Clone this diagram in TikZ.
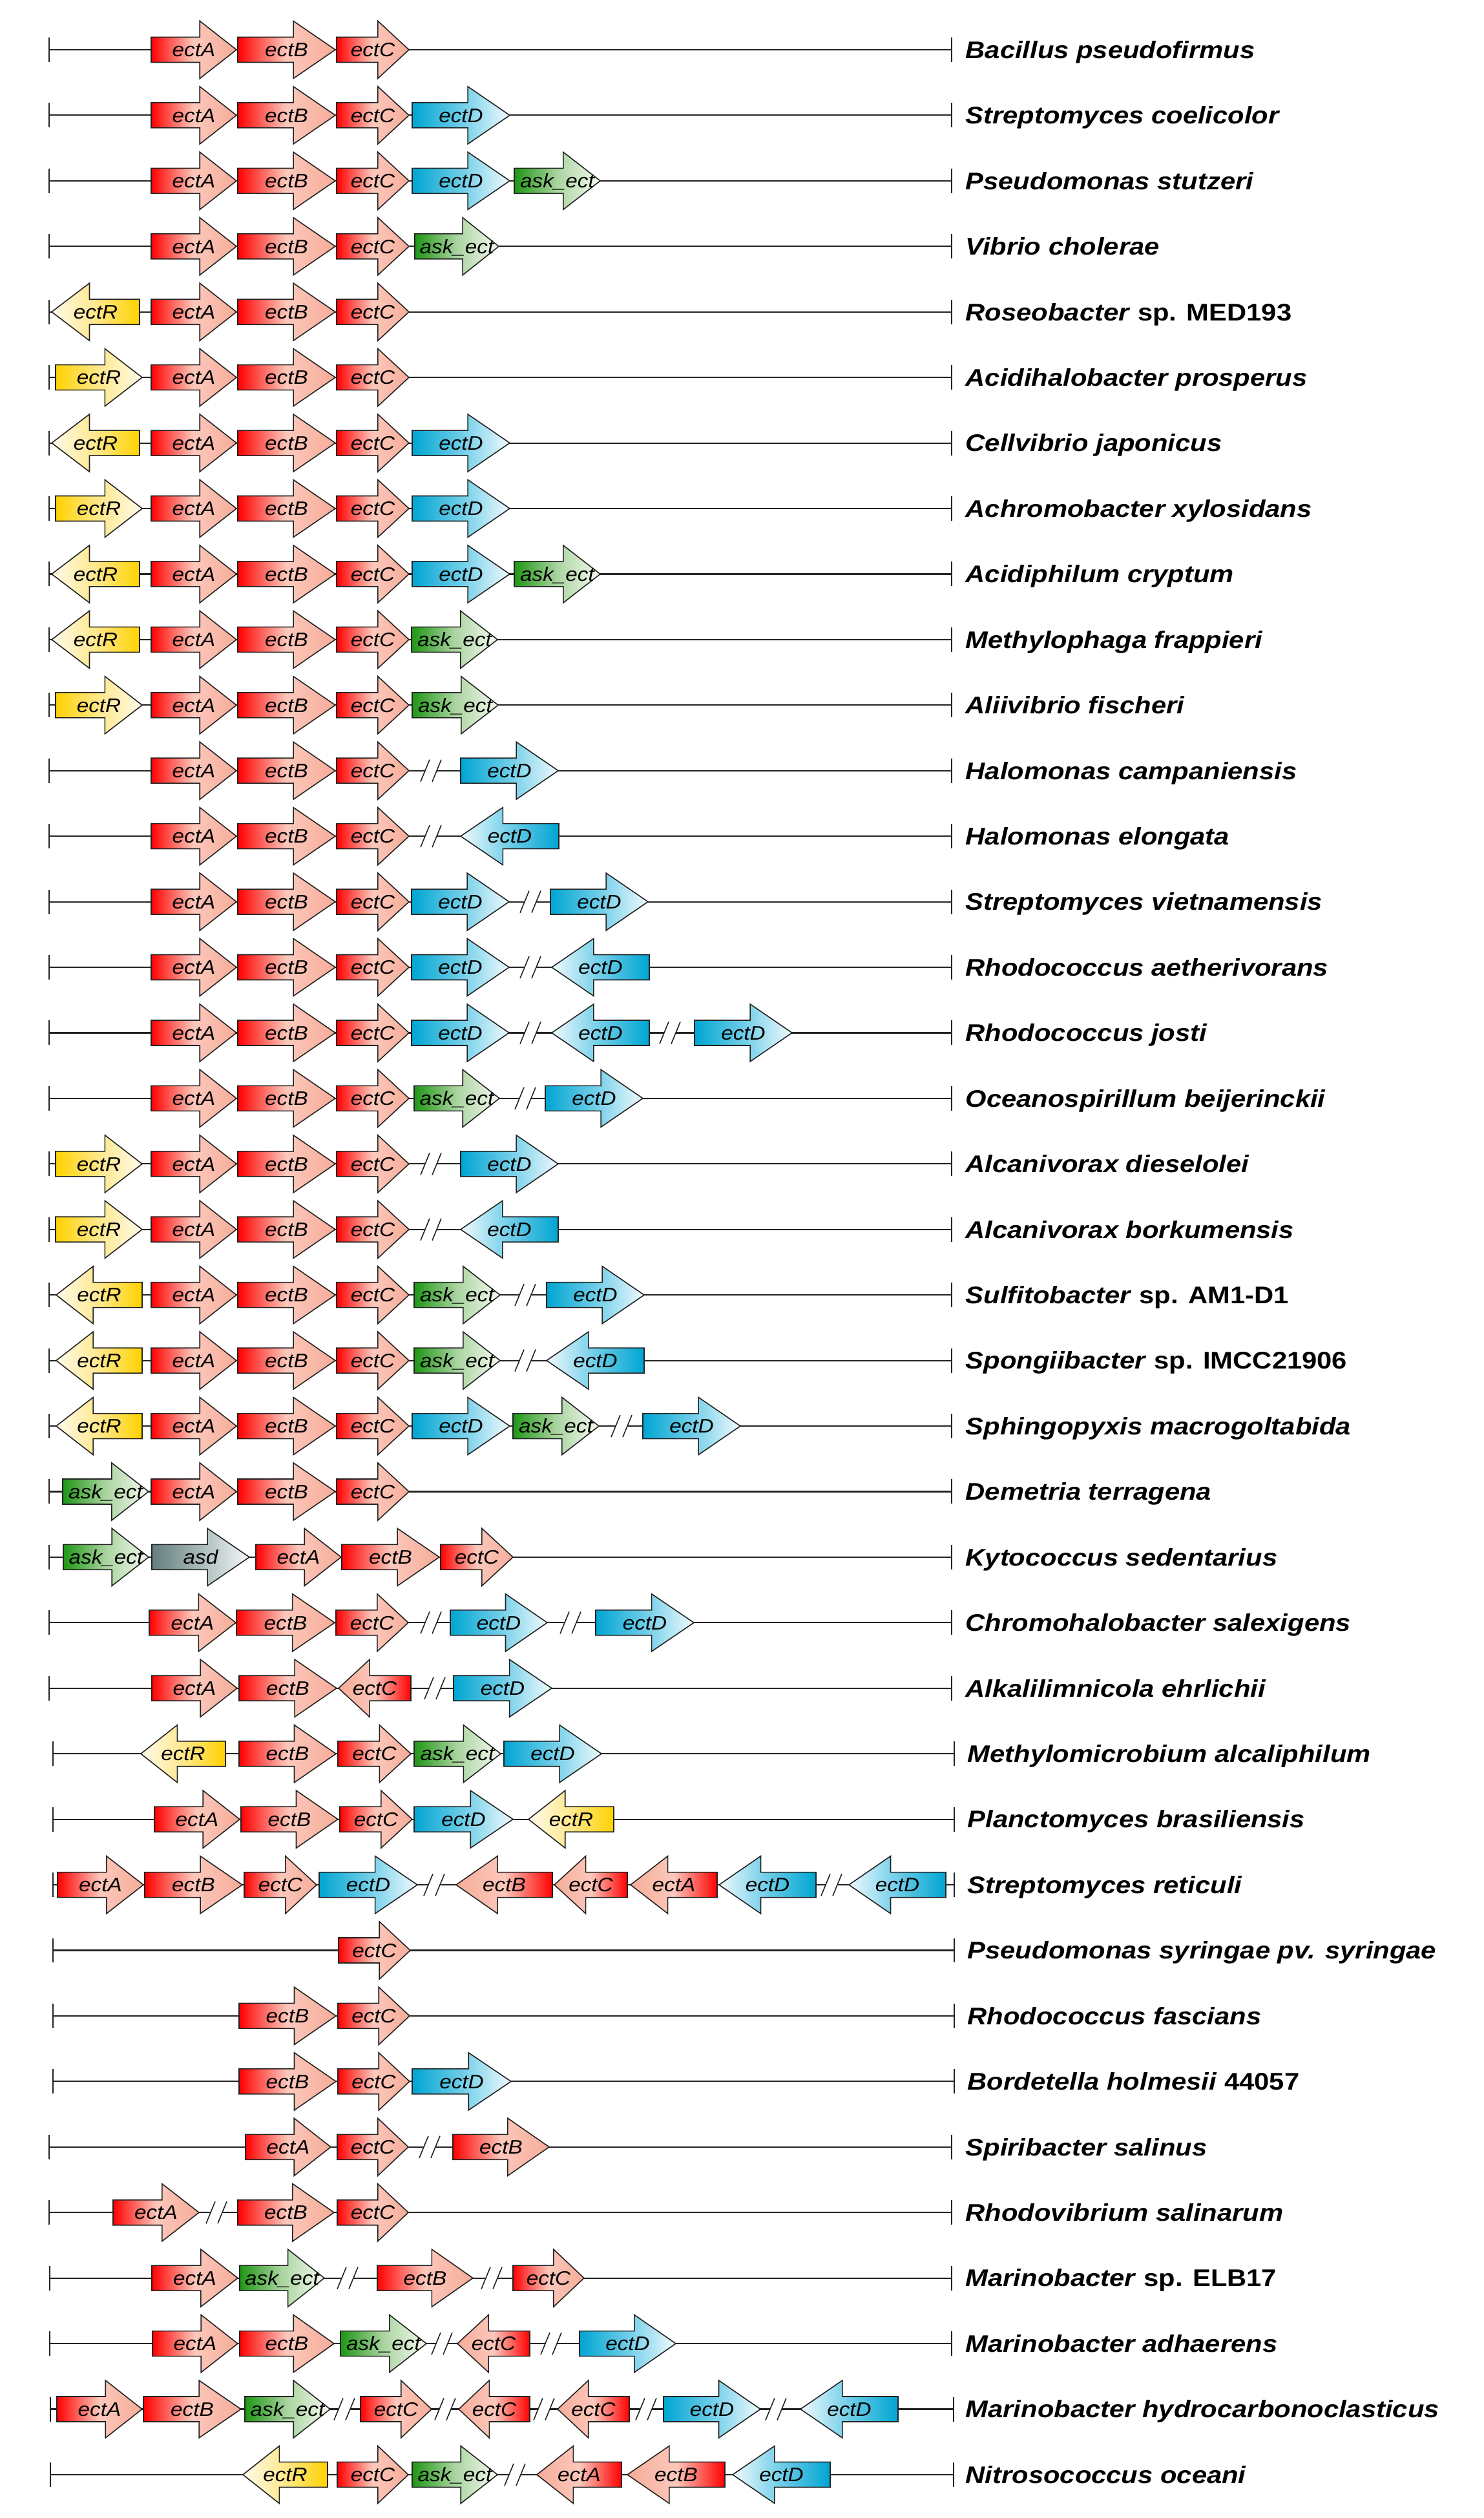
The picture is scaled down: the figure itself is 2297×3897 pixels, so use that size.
\documentclass[tikz,border=0pt]{standalone}
\usepackage{fontspec}
\setmainfont{Liberation Sans}
\newfontfamily\spfont[FakeStretch=1.12]{Liberation Sans}
\newfontfamily\genefont[FakeStretch=1.1]{Liberation Sans}
\usetikzlibrary{arrows.meta}

\definecolor{outline}{RGB}{35,35,35}
\definecolor{ectbase}{RGB}{255,0,0}
\definecolor{ectmid}{RGB}{252,200,188}
\definecolor{ectlight}{RGB}{246,172,152}
\definecolor{dbase}{RGB}{0,165,210}
\definecolor{dmid}{RGB}{110,205,232}
\definecolor{dlight}{RGB}{240,250,253}
\definecolor{askbase}{RGB}{30,150,20}
\definecolor{askmid}{RGB}{170,212,160}
\definecolor{asklight}{RGB}{245,250,240}
\definecolor{rbase}{RGB}{255,210,0}
\definecolor{rmid}{RGB}{255,232,140}
\definecolor{rlight}{RGB}{255,250,235}
\definecolor{asdbase}{RGB}{100,125,125}
\definecolor{asdmid}{RGB}{170,186,186}
\definecolor{asdlight}{RGB}{245,248,248}

\tikzset{
  backbone/.style={draw=outline,line width=0.6pt,{Bar[width=10.8pt,line width=0.45pt]}-{Bar[width=10.8pt,line width=0.45pt]}},
  genebox/.style={draw=outline,line width=0.45pt},
  genelabel/.style={font=\genefont\itshape\fontsize{8.6}{10}\selectfont,inner sep=0pt,text height=6.1pt,text depth=0pt},
  brkline/.style={draw=outline,line width=0.45pt},
  species/.style={font=\spfont\bfseries\itshape\fontsize{10.6}{12}\selectfont,inner sep=0pt,anchor=base west}
}

% tail x, tip x, row, colour kind, label
\newcommand{\ectgene}[5]{%
  \pgfmathsetmacro\gy{77+(#3-1)*101.43}%
  \pgfmathsetmacro\gs{#2-0.43*(#2-#1)}%
  \pgfmathsetmacro\gm{(#1+#2)/2}%
  \ifdim #1pt<#2pt
    \def\gfrom{#4base}\def\gto{#4light}%
  \else
    \def\gfrom{#4light}\def\gto{#4base}%
  \fi
  \draw[genebox,left color=\gfrom,right color=\gto,middle color=#4mid]
    (#1,\gy-19.5) -- (\gs,\gy-19.5) -- (\gs,\gy-44.5) -- (#2,\gy)
    -- (\gs,\gy+44.5) -- (\gs,\gy+19.5) -- (#1,\gy+19.5) -- cycle;
  \node[genelabel] (g#1r#3) at (\gm,\gy) {#5};
}
% x centre, row
\newcommand{\ectbreak}[2]{%
  \pgfmathsetmacro\gy{77+(#2-1)*101.43}%
  \fill[white] (#1-16,\gy+17) -- (#1+2,\gy+17) -- (#1+16,\gy-17) -- (#1-2,\gy-17) -- cycle;
  \draw[brkline] (#1-16,\gy+17) -- (#1-2,\gy-17) (#1+2,\gy+17) -- (#1+16,\gy-17);
}

\begin{document}
\begin{tikzpicture}[x=0.01cm,y=-0.01cm]
\useasboundingbox (0,0) rectangle (2297,3897);

% lines and names
\foreach \i/\lx/\rx/\tx/\nm in {
  1/75/1474/1494/Bacillus pseudofirmus,
  2/75/1474/1494/Streptomyces coelicolor,
  3/75/1474/1494/Pseudomonas stutzeri,
  4/75/1474/1494/Vibrio cholerae,
  5/75/1474/1494/Roseobacter \textup{sp. MED193},
  6/75/1474/1494/Acidihalobacter prosperus,
  7/75/1474/1494/Cellvibrio japonicus,
  8/75/1474/1494/Achromobacter xylosidans,
  9/75/1474/1494/Acidiphilum cryptum,
  10/75/1474/1494/Methylophaga frappieri,
  11/75/1474/1494/Aliivibrio fischeri,
  12/75/1474/1494/Halomonas campaniensis,
  13/75/1474/1494/Halomonas elongata,
  14/75/1474/1494/Streptomyces vietnamensis,
  15/75/1474/1494/Rhodococcus aetherivorans,
  16/75/1474/1494/Rhodococcus josti,
  17/75/1474/1494/Oceanospirillum beijerinckii,
  18/75/1474/1494/Alcanivorax dieselolei,
  19/75/1474/1494/Alcanivorax borkumensis,
  20/75/1474/1494/Sulfitobacter \textup{sp. AM1-D1},
  21/75/1474/1494/Spongiibacter \textup{sp. IMCC21906},
  22/75/1474/1494/Sphingopyxis macrogoltabida,
  23/75/1474/1494/Demetria terragena,
  24/75/1474/1494/Kytococcus sedentarius,
  25/75/1474/1494/Chromohalobacter salexigens,
  26/75/1474/1494/Alkalilimnicola ehrlichii,
  27/81/1478/1497/Methylomicrobium alcaliphilum,
  28/81/1478/1497/Planctomyces brasiliensis,
  29/81/1478/1497/Streptomyces reticuli,
  30/81/1478/1497/Pseudomonas syringae pv. syringae,
  31/81/1478/1497/Rhodococcus fascians,
  32/81/1478/1497/Bordetella holmesii \textup{44057},
  33/75/1474/1494/Spiribacter salinus,
  34/75/1474/1494/Rhodovibrium salinarum,
  35/76/1474/1494/Marinobacter \textup{sp. ELB17},
  36/76/1474/1494/Marinobacter adhaerens,
  37/77/1477/1494/Marinobacter hydrocarbonoclasticus,
  38/77/1477/1494/Nitrosococcus oceani}{
  \pgfmathsetmacro\gy{77+(\i-1)*101.43}
  \coordinate (l\i) at (\lx,\gy);
  \coordinate (r\i) at (\rx,\gy);
  \draw[backbone] (l\i) -- (r\i);
  \node[species] (sp\i) at (\tx,\gy+13.3) {\nm};
}

% ectABC cluster, rows 1-23
\foreach \r in {1,...,23}{
  \ectgene{234}{366}{\r}{ect}{ectA}
  \ectgene{368}{519}{\r}{ect}{ectB}
  \ectgene{521}{633}{\r}{ect}{ectC}
}

\ectgene{638}{789}{2}{d}{ectD}
\ectgene{638}{789}{3}{d}{ectD}
\ectgene{796}{929}{3}{ask}{ask\_ect}
\ectgene{642}{772}{4}{ask}{ask\_ect}
\ectgene{216}{80}{5}{r}{ectR}
\ectgene{86}{220}{6}{r}{ectR}
\ectgene{216}{80}{7}{r}{ectR}
\ectgene{638}{789}{7}{d}{ectD}
\ectgene{86}{220}{8}{r}{ectR}
\ectgene{638}{789}{8}{d}{ectD}
\ectgene{216}{80}{9}{r}{ectR}
\ectgene{638}{789}{9}{d}{ectD}
\ectgene{796}{929}{9}{ask}{ask\_ect}
\ectgene{216}{80}{10}{r}{ectR}
\ectgene{637}{770}{10}{ask}{ask\_ect}
\ectgene{86}{220}{11}{r}{ectR}
\ectgene{638}{771}{11}{ask}{ask\_ect}

\ectbreak{667}{12}
\ectgene{713}{864}{12}{d}{ectD}
\ectbreak{667}{13}
\ectgene{865}{713}{13}{d}{ectD}
\ectgene{637}{788}{14}{d}{ectD}
\ectbreak{821}{14}
\ectgene{852}{1003}{14}{d}{ectD}
\ectgene{637}{788}{15}{d}{ectD}
\ectbreak{821}{15}
\ectgene{1005}{854}{15}{d}{ectD}
\ectgene{637}{788}{16}{d}{ectD}
\ectbreak{821}{16}
\ectgene{1005}{854}{16}{d}{ectD}
\ectbreak{1037}{16}
\ectgene{1075}{1226}{16}{d}{ectD}
\ectgene{641}{773}{17}{ask}{ask\_ect}
\ectbreak{813}{17}
\ectgene{844}{995}{17}{d}{ectD}
\ectgene{86}{220}{18}{r}{ectR}
\ectbreak{667}{18}
\ectgene{713}{864}{18}{d}{ectD}
\ectgene{86}{220}{19}{r}{ectR}
\ectbreak{667}{19}
\ectgene{864}{713}{19}{d}{ectD}
\ectgene{220}{87}{20}{r}{ectR}
\ectgene{641}{774}{20}{ask}{ask\_ect}
\ectbreak{813}{20}
\ectgene{846}{997}{20}{d}{ectD}
\ectgene{220}{87}{21}{r}{ectR}
\ectgene{641}{774}{21}{ask}{ask\_ect}
\ectbreak{813}{21}
\ectgene{997}{846}{21}{d}{ectD}
\ectgene{220}{87}{22}{r}{ectR}
\ectgene{638}{789}{22}{d}{ectD}
\ectgene{794}{927}{22}{ask}{ask\_ect}
\ectbreak{962}{22}
\ectgene{995}{1146}{22}{d}{ectD}
\ectgene{97}{230}{23}{ask}{ask\_ect}

% rows 24-38
\ectgene{98}{230}{24}{ask}{ask\_ect}
\ectgene{235}{386}{24}{asd}{asd}
\ectgene{396}{528}{24}{ect}{ectA}
\ectgene{529}{680}{24}{ect}{ectB}
\ectgene{682}{794}{24}{ect}{ectC}

\ectgene{231}{365}{25}{ect}{ectA}
\ectgene{366}{518}{25}{ect}{ectB}
\ectgene{520}{632}{25}{ect}{ectC}
\ectbreak{667}{25}
\ectgene{697}{847}{25}{d}{ectD}
\ectbreak{883}{25}
\ectgene{922}{1074}{25}{d}{ectD}

\ectgene{235}{367}{26}{ect}{ectA}
\ectgene{370}{521}{26}{ect}{ectB}
\ectgene{636}{524}{26}{ect}{ectC}
\ectbreak{673}{26}
\ectgene{702}{854}{26}{d}{ectD}

\ectgene{349}{218}{27}{r}{ectR}
\ectgene{370}{520}{27}{ect}{ectB}
\ectgene{523}{636}{27}{ect}{ectC}
\ectgene{641}{775}{27}{ask}{ask\_ect}
\ectgene{780}{931}{27}{d}{ectD}

\ectgene{239}{371}{28}{ect}{ectA}
\ectgene{373}{523}{28}{ect}{ectB}
\ectgene{526}{638}{28}{ect}{ectC}
\ectgene{641}{794}{28}{d}{ectD}
\ectgene{950}{818}{28}{r}{ectR}

\ectgene{89}{222}{29}{ect}{ectA}
\ectgene{224}{375}{29}{ect}{ectB}
\ectgene{378}{490}{29}{ect}{ectC}
\ectgene{494}{646}{29}{d}{ectD}
\ectbreak{672}{29}
\ectgene{855}{706}{29}{ect}{ectB}
\ectgene{971}{858}{29}{ect}{ectC}
\ectgene{1110}{976}{29}{ect}{ectA}
\ectgene{1263}{1113}{29}{d}{ectD}
\ectbreak{1287}{29}
\ectgene{1464}{1314}{29}{d}{ectD}

\ectgene{524}{635}{30}{ect}{ectC}

\ectgene{370}{520}{31}{ect}{ectB}
\ectgene{523}{634}{31}{ect}{ectC}

\ectgene{370}{520}{32}{ect}{ectB}
\ectgene{523}{634}{32}{ect}{ectC}
\ectgene{638}{791}{32}{d}{ectD}

\ectgene{380}{512}{33}{ect}{ectA}
\ectgene{522}{632}{33}{ect}{ectC}
\ectbreak{665}{33}
\ectgene{701}{850}{33}{ect}{ectB}

\ectgene{175}{308}{34}{ect}{ectA}
\ectbreak{335}{34}
\ectgene{368}{517}{34}{ect}{ectB}
\ectgene{522}{632}{34}{ect}{ectC}

\ectgene{235}{368}{35}{ect}{ectA}
\ectgene{371}{502}{35}{ask}{ask\_ect}
\ectbreak{538}{35}
\ectgene{584}{732}{35}{ect}{ectB}
\ectbreak{761}{35}
\ectgene{794}{904}{35}{ect}{ectC}

\ectgene{236}{368}{36}{ect}{ectA}
\ectgene{371}{517}{36}{ect}{ectB}
\ectgene{527}{660}{36}{ask}{ask\_ect}
\ectbreak{684}{36}
\ectgene{820}{708}{36}{ect}{ectC}
\ectbreak{853}{36}
\ectgene{897}{1046}{36}{d}{ectD}

\ectgene{88}{220}{37}{ect}{ectA}
\ectgene{222}{373}{37}{ect}{ectB}
\ectgene{379}{511}{37}{ask}{ask\_ect}
\ectbreak{533}{37}
\ectgene{558}{668}{37}{ect}{ectC}
\ectbreak{689}{37}
\ectgene{820}{710}{37}{ect}{ectC}
\ectbreak{842}{37}
\ectgene{974}{863}{37}{ect}{ectC}
\ectbreak{1000}{37}
\ectgene{1027}{1177}{37}{d}{ectD}
\ectbreak{1201}{37}
\ectgene{1390}{1239}{37}{d}{ectD}

\ectgene{507}{376}{38}{r}{ectR}
\ectgene{522}{632}{38}{ect}{ectC}
\ectgene{638}{770}{38}{ask}{ask\_ect}
\ectbreak{797}{38}
\ectgene{962}{831}{38}{ect}{ectA}
\ectgene{1122}{971}{38}{ect}{ectB}
\ectgene{1285}{1134}{38}{d}{ectD}
\end{tikzpicture}
\end{document}
